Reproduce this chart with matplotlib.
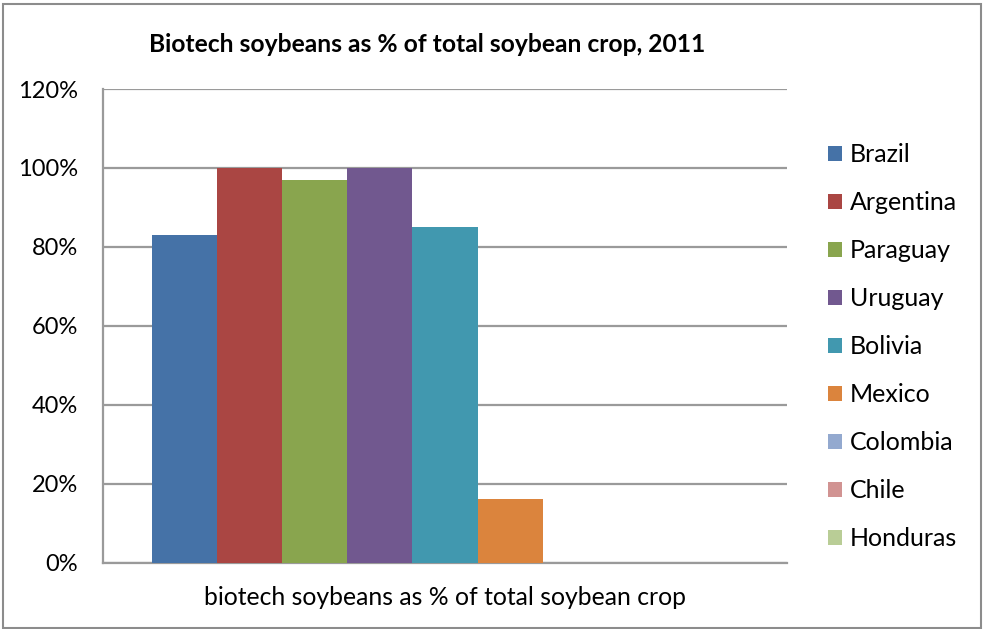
import matplotlib
matplotlib.use("Agg")
import matplotlib.pyplot as plt
from matplotlib.patches import Rectangle
from matplotlib.ticker import PercentFormatter

# Share of the soybean crop planted with biotech varieties, 2011
countries = ["Brazil", "Argentina", "Paraguay", "Uruguay", "Bolivia",
             "Mexico", "Colombia", "Chile", "Honduras"]
shares = [83, 100, 97, 100, 85, 16, 0, 0, 0]
colors = ["#4572A7", "#AA4643", "#89A54E", "#71588F", "#4198AF",
          "#DB843D", "#93A9CF", "#D19392", "#B9CD96"]
category = "biotech soybeans as % of total soybean crop"
title = "Biotech soybeans as % of total soybean crop, 2011"
yticks = [0, 20, 40, 60, 80, 100, 120]

plt.rcParams["font.family"] = ["Lato", "DejaVu Sans"]

W, H = 983, 629
fig = plt.figure(figsize=(W / 100, H / 100), dpi=100)
ax = fig.add_axes([103 / W, (H - 562.5) / H, 684 / W, (562.5 - 89) / H])

n = len(countries)
gap = 1.5
bw = 1.0 / (n + gap)
start = -0.5 + gap * bw / 2
for i, (c, v, col) in enumerate(zip(countries, shares, colors)):
    ax.bar(start + (i + 0.5) * bw, v, width=bw, color=col, label=c,
           zorder=3, linewidth=0)

ax.set_xlim(-0.5, 0.5)
ax.set_ylim(0, 120)
ax.set_yticks(yticks)
ax.yaxis.set_major_formatter(PercentFormatter(decimals=0))
ax.set_xticks([0])
ax.set_xticklabels([category])
ax.tick_params(axis="y", length=0, labelsize=17, colors="black", pad=18)
ax.tick_params(axis="x", length=0, labelsize=17.8, colors="black", pad=17)

ax.grid(axis="y", color="#9a9a9a", linewidth=1.6, zorder=0)
for s in ["top", "right"]:
    ax.spines[s].set_visible(False)
for s in ["left", "bottom"]:
    ax.spines[s].set_color("#9a9a9a")
    ax.spines[s].set_linewidth(1.6)

fig.text(427 / W, 1 - 44 / H, title, ha="center", va="center",
         fontsize=17.7, fontweight="bold")

leg = ax.legend(loc="upper left", bbox_to_anchor=(815 / W, 1 - 131 / H),
                bbox_transform=fig.transFigure, frameon=False,
                fontsize=18, handlelength=0.56, handleheight=0.56,
                handletextpad=0.35, labelspacing=1.0, borderpad=0)

fig.patches.append(Rectangle((2.5 / W, 1.5 / H), (W - 5) / W, (H - 5) / H,
                             transform=fig.transFigure, fill=False,
                             edgecolor="#8c8c8c", linewidth=1.5))

fig.savefig("out.png", dpi=100)
